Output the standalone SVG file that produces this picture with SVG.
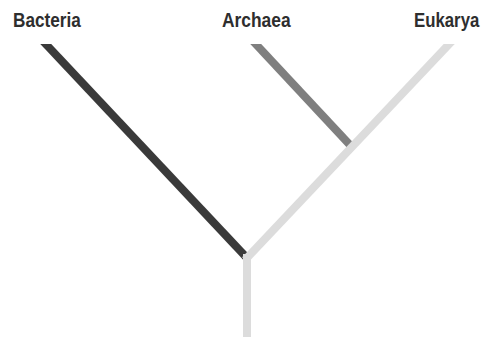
<svg xmlns="http://www.w3.org/2000/svg" width="484" height="337" viewBox="0 0 484 337">
  <style>
    .lbl { font-family: "Liberation Sans", Arial, sans-serif; font-weight: bold; font-size: 20px; fill: #2e2e2e; }
    .br { fill: none; stroke-width: 8; stroke-linecap: butt; }
  </style>
  <defs>
    <clipPath id="clip"><rect x="0" y="44" width="484" height="293"/></clipPath>
  </defs>
  <rect width="484" height="337" fill="#ffffff"/>
  <g id="connectors" clip-path="url(#clip)">
    <line id="bacteria-branch" class="br" x1="42" y1="40" x2="247" y2="258" stroke="#3a3a3a"/>
    <line id="archaea-branch" class="br" x1="252" y1="40" x2="350" y2="145" stroke="#7f7f7f"/>
    <line id="eukarya-branch" class="br" x1="453" y1="40" x2="245" y2="260" stroke="#dcdcdc"/>
    <line id="stem" class="br" x1="247" y1="254" x2="247" y2="337" stroke="#dcdcdc"/>
  </g>
  <g id="bacteria" transform="translate(13,27) scale(0.86,1)"><text class="lbl" x="0" y="0">Bacteria</text></g>
  <g id="archaea" transform="translate(222,27) scale(0.87,1)"><text class="lbl" x="0" y="0">Archaea</text></g>
  <g id="eukarya" transform="translate(414,27) scale(0.84,1)"><text class="lbl" x="0" y="0">Eukarya</text></g>
</svg>
